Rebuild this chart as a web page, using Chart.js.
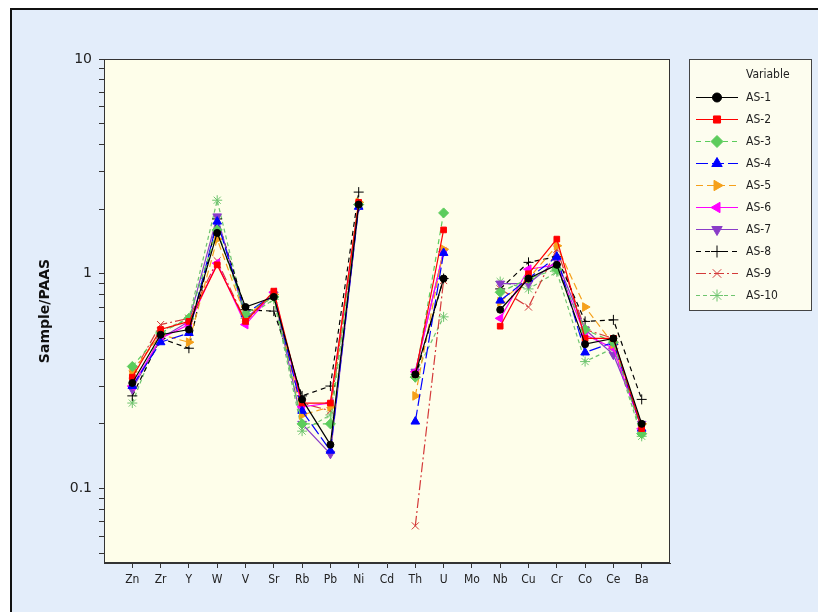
<!DOCTYPE html>
<html><head><meta charset="utf-8">
<script src="https://cdn.jsdelivr.net/npm/chart.js@4.4.1/dist/chart.umd.min.js"></script>
<style>html,body{margin:0;padding:0;background:#fff}#c{display:block}</style>
</head><body><canvas id="c" width="818" height="612"></canvas>
<script>
const categories = ['Zn','Zr','Y','W','V','Sr','Rb','Pb','Ni','Cd','Th','U','Mo','Nb','Cu','Cr','Co','Ce','Ba'];
const seriesNames = ['AS-1','AS-2','AS-3','AS-4','AS-5','AS-6','AS-7','AS-8','AS-9','AS-10'];
const as1  = [0.31,0.52,0.55,1.55,0.70,0.78,0.26,0.16,2.10,null,0.34,0.95,null,0.68,0.95,1.10,0.47,0.50,0.20];
const as2  = [0.33,0.55,0.60,1.10,0.60,0.83,0.25,0.25,2.15,null,0.34,1.60,null,0.57,1.00,1.45,0.50,0.50,0.19];
const as3  = [0.37,0.53,0.62,1.60,0.65,0.78,0.20,0.20,2.10,null,0.33,1.92,null,0.82,0.95,1.05,0.55,0.48,0.18];
const as4  = [0.30,0.48,0.53,1.75,0.65,0.80,0.23,0.15,2.05,null,0.205,1.25,null,0.75,0.95,1.20,0.43,0.48,0.19];
const as5  = [0.35,0.52,0.48,1.45,0.63,0.80,0.22,0.24,2.15,null,0.27,1.30,null,0.74,0.95,1.35,0.70,0.47,0.20];
const as6  = [0.30,0.50,0.58,1.12,0.58,0.82,0.24,0.25,2.10,null,0.35,1.27,null,0.62,1.05,1.10,0.52,0.45,0.19];
const as7  = [0.29,0.50,0.60,1.85,0.62,0.80,0.20,0.145,2.05,null,0.35,1.27,null,0.90,0.90,1.15,0.55,0.42,0.20];
const as8  = [0.27,0.50,0.45,1.80,0.68,0.67,0.27,0.30,2.40,null,0.33,0.95,null,0.85,1.13,1.20,0.60,0.61,0.26];
const as9  = [0.34,0.58,0.62,1.15,0.60,0.80,0.25,0.23,2.10,null,0.067,0.93,null,0.85,0.70,1.30,0.55,0.50,0.19];
const as10 = [0.25,0.54,0.62,2.20,0.62,0.76,0.185,0.22,2.10,null,0.34,0.63,null,0.92,0.85,1.02,0.39,0.45,0.175];
const yTickLabels = [10, 1, 0.1];
const legendTitle = 'Variable';
const yTitle = 'Sample/PAAS';

const seriesValues = [as1,as2,as3,as4,as5,as6,as7,as8,as9,as10];
const styles = [
  {color:'#000000', dash:[], ps:'circle', rot:0, r:3.5},
  {color:'#ff0000', dash:[], ps:'rect', rot:0, r:4},
  {color:'#5ccc5c', dash:[5,4], ps:'rectRot', rot:0, r:5},
  {color:'#0000ff', dash:[12,4], ps:'triangle', rot:0, r:5},
  {color:'#f5a01a', dash:[7,4], ps:'triangle', rot:90, r:5},
  {color:'#ff00ff', dash:[], ps:'triangle', rot:-90, r:5},
  {color:'#8a3cc8', dash:[], ps:'triangle', rot:180, r:5},
  {color:'#000000', dash:[5,4], ps:'cross', rot:0, r:5},
  {color:'#d43a3a', dash:[10,3,2,3], ps:'crossRot', rot:0, r:5},
  {color:'#6ec46e', dash:[4,3], ps:'star', rot:0, r:5}
];

const datasets = seriesNames.map((n,k)=>({
  label:n,
  data: seriesValues[k].map((v,i)=>({x:i, y:v})),
  borderColor: styles[k].color,
  backgroundColor: styles[k].color,
  borderWidth: 1.2,
  borderDash: styles[k].dash,
  pointStyle: styles[k].ps,
  pointRotation: styles[k].rot,
  pointRadius: styles[k].r,
  pointBorderWidth: 1,
  spanGaps: false,
  tension: 0
}));

const yTicks = [];
for (let e = -2; e <= 1; e++) for (let m = 1; m <= 9; m++) {
  const v = +(m * Math.pow(10, e)).toPrecision(3);
  if (v >= 0.045 && v <= 10) yTicks.push(v);
}

const decor = {
  id:'decor',
  beforeDraw(chart){
    const c = chart.ctx, a = chart.chartArea;
    c.save();
    c.fillStyle = '#ffffff'; c.fillRect(0,0,818,612);
    c.fillStyle = '#e3edfa'; c.fillRect(10,8,808,604);
    c.fillStyle = '#fefeea'; c.fillRect(a.left,a.top,a.right-a.left,a.bottom-a.top);
    c.restore();
  },
  afterDraw(chart){
    const c = chart.ctx, a = chart.chartArea;
    c.save();
    c.strokeStyle = '#333'; c.lineWidth = 1;
    c.strokeRect(a.left+0.5, a.top+0.5, a.right-a.left-1, a.bottom-a.top-1);
    c.strokeStyle = '#111'; c.lineWidth = 2;
    c.beginPath(); c.moveTo(11,612); c.lineTo(11,9); c.lineTo(818,9); c.stroke();
    // legend
    const lx = 689, ly = 59, lw = 123, lh = 252;
    c.fillStyle = '#fdfdef'; c.fillRect(lx,ly,lw,lh);
    c.strokeStyle = '#444'; c.lineWidth = 1;
    c.strokeRect(lx+0.5, ly+0.5, lw-1, lh-1);
    c.fillStyle = '#222'; c.font = '12px "DejaVu Sans Condensed", "DejaVu Sans", sans-serif';
    c.textBaseline = 'middle'; c.textAlign = 'left';
    c.fillText(legendTitle, 746, 75);
    chart.data.datasets.forEach((ds,k)=>{
      const y = 97.5 + k*22;
      c.save();
      c.strokeStyle = ds.borderColor; c.lineWidth = 1.2; c.setLineDash(ds.borderDash);
      c.beginPath(); c.moveTo(696,y); c.lineTo(738,y); c.stroke();
      c.restore();
      c.save();
      c.fillStyle = ds.backgroundColor; c.strokeStyle = ds.borderColor; c.lineWidth = 1;
      Chart.helpers.drawPoint(c, {pointStyle: ds.pointStyle, rotation: ds.pointRotation, radius: ds.pointRadius+1, borderWidth: 1}, 717, y);
      c.restore();
      c.fillStyle = '#222';
      c.fillText(ds.label, 746, y);
    });
    c.restore();
  }
};

new Chart(document.getElementById('c'), {
  type:'line',
  data:{datasets},
  options:{
    responsive:false, animation:false, devicePixelRatio:1,
    layout:{padding:{left:10, top:59, right:148, bottom:0}},
    plugins:{legend:{display:false}, tooltip:{enabled:false}},
    scales:{
      x:{
        type:'linear', min:-1, max:19,
        afterBuildTicks: s => { s.ticks = categories.map((c,i)=>({value:i})); },
        afterFit: s => { s.height = 49; },
        ticks:{autoSkip:false, maxRotation:0, padding:5, color:'#222',
          font:{family:'"DejaVu Sans Condensed", "DejaVu Sans", sans-serif', size:12},
          callback: v => categories[v] ?? ''},
        grid:{drawOnChartArea:false, drawTicks:true, tickLength:5, color:'#333'},
        border:{display:true, color:'#333'}
      },
      y:{
        type:'logarithmic', min:0.045, max:10,
        afterBuildTicks: s => { s.ticks = yTicks.map(v=>({value:v, major: yTickLabels.includes(v)})); },
        afterFit: s => { s.width = 94; },
        ticks:{autoSkip:false, padding:7, color:'#222',
          font:{family:'"DejaVu Sans", sans-serif', size:14},
          callback: v => yTickLabels.includes(v) ? String(v) : ''},
        grid:{drawOnChartArea:false, drawTicks:true, tickLength:5, color:'#333'},
        border:{display:true, color:'#333'},
        title:{display:true, text:yTitle, color:'#111', padding:{top:27, bottom:0},
          font:{family:'"DejaVu Sans", sans-serif', size:14, weight:'bold'}}
      }
    }
  },
  plugins:[decor]
});
</script>
</body></html>
